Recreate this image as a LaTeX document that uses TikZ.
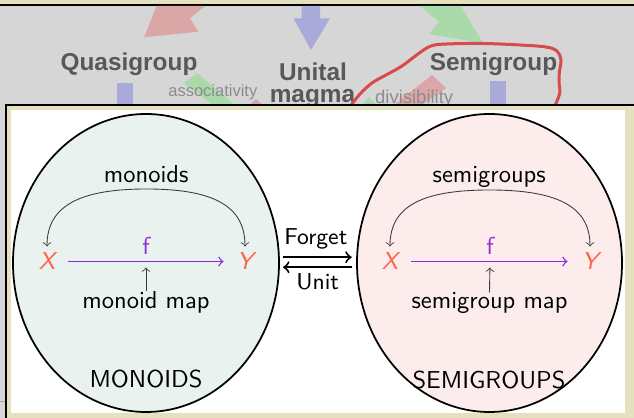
\documentclass[tikz,border=0pt]{standalone}
\usepackage{fontspec}
\newfontfamily\bgfont{Liberation Sans}
\usetikzlibrary{shapes.geometric,calc}
\definecolor{bggray}{RGB}{214,214,214}
\definecolor{beige}{RGB}{229,225,190}
\definecolor{monofill}{RGB}{233,242,238}
\definecolor{semifill}{RGB}{253,236,236}
\definecolor{xycol}{RGB}{255,99,71}
\definecolor{fcol}{RGB}{140,45,215}
\definecolor{bgtext}{RGB}{88,88,88}
\definecolor{bgtextlight}{RGB}{140,140,140}
\definecolor{bgred}{RGB}{218,166,166}
\definecolor{bgblue}{RGB}{170,170,218}
\definecolor{bggreen}{RGB}{170,218,170}
\definecolor{loopred}{RGB}{214,76,76}
\definecolor{thinline}{RGB}{60,60,60}
\definecolor{edgegray}{RGB}{165,165,165}
\tikzset{
  bgbold/.style={font=\bgfont\bfseries\fontsize{9.75}{12}\selectfont, text=bgtext, inner sep=0pt, anchor=base},
  bglight/.style={font=\bgfont\fontsize{6.6}{8}\selectfont, text=bgtextlight, inner sep=0pt, anchor=base},
  bglighttwo/.style={font=\bgfont\fontsize{7.4}{9}\selectfont, text=bgtextlight, inner sep=0pt, anchor=base},
  lbl/.style={font=\sffamily\fontsize{9.8}{12}\selectfont, inner sep=0pt, anchor=base},
  lbltwo/.style={font=\sffamily\fontsize{9.2}{11}\selectfont, inner sep=0pt, anchor=base},
  catblob/.style={ellipse, draw=black, line width=0.7pt, inner sep=0pt, minimum height=119.2pt},
  farrow/.style={->, draw=fcol, line width=0.55pt},
  carrow/.style={<->, draw=thinline, line width=0.35pt, shorten <=2.4pt, shorten >=2.4pt},
  sarrow/.style={->, draw=thinline, line width=0.35pt},
  fgarrow/.style={->, draw=black, line width=0.8pt},
}
\begin{document}
\begin{tikzpicture}[x=0.4pt,y=-0.4pt]
\useasboundingbox (0,0) rectangle (634,418);
% background screenshot
\fill[bggray] (0,0) rectangle (634,418);
\fill[beige] (0,0) rectangle (634,4.3);
\fill[black] (0,4.3) rectangle (634,5.8);
\fill[bgred] (156.7,6) -- (205,6) -- (190,18.3) -- (198.3,31.7) -- (144,37.3) -- cycle;
\fill[bgblue] (301.7,6) -- (320,6) -- (320,18.3) -- (330,18.3) -- (311,50) -- (293.3,18.3) -- (301.7,18.3) -- cycle;
\fill[bggreen] (420,6) -- (461,6) -- (483,43) -- (429,34) -- (439,22) -- cycle;
\fill[bgblue] (116.5,82.7) rectangle (133.4,106);
\fill[bgblue] (490,81) rectangle (506,106);
\fill[bggreen] (184,83) -- (197,73) -- (236,106) -- (214,106) -- cycle;
\fill[bgred] (249,106) -- (256,99) -- (264,106) -- cycle;
\fill[bgred] (432,75) -- (446,88) -- (420,106) -- (393,106) -- cycle;
\fill[bggreen] (362,106) -- (369,97) -- (377,106) -- cycle;
\node[bgbold] (quasi) at (129,70.8) {Quasigroup};
\node[bgbold] (unital) at (313,81) {Unital};
\node[bgbold] (magma) at (312.5,102.5) {magma};
\node[bgbold] (semi) at (493.5,71) {Semigroup};
\node[bglight] (assoc) at (212.8,96.5) {associativity};
\node[bglighttwo] (divis) at (414.2,104) {divisibility};
\draw[loopred, line width=1.2pt, line cap=round, line join=round]
  plot[smooth, tension=0.6] coordinates {(349,108) (360,94) (372,83) (386,75) (402,66) (418,54) (431,46) (447,44) (483,43.5) (520,45) (546,47) (557,51) (561,60) (559.5,71) (559,83) (560,92) (557,101) (553,110)};
% panel
\fill[black] (5,104) rectangle (634,106);
\fill[black] (5,104) rectangle (7,418);
\fill[beige] (7,106) rectangle (634,418);
\fill[white] (11,110) rectangle (625,413);
\draw[draw=edgegray, line width=0.4pt] (0,402) -- (5,402);
% categories
\node[catblob, fill=monofill, minimum width=106.4pt] (M) at (146,263) {};
\node[catblob, fill=semifill, minimum width=106pt] (S) at (489.5,263) {};
% left: monoids
\node[lbl] (mtitle) at (146.2,182.3) {monoids};
\node[lbl, text=xycol] (X1) at (47,270) {\itshape X};
\node[lbl, text=xycol] (Y1) at (245,270) {\itshape Y};
\node[lbl, text=fcol] (f1) at (146,255) {f};
\node[lbl] (mmap) at (146,308.3) {monoid map};
\node[lbl] (MT) at (146,387.7) {MONOIDS};
\coordinate (mtop) at (146.5,189);
\draw[farrow, shorten <=5.1pt, shorten >=5.1pt] (X1.east) -- (Y1.west);
\path (X1.east) -- (Y1.west) coordinate[pos=0.5] (fm1);
\draw[sarrow, shorten >=2.4pt] (mmap.north) -- (fm1);
\draw[carrow] (X1.north) .. controls ($(X1.north)+(0,-47)$) and ($(mtop)+(-66,0)$) .. (mtop)
  .. controls ($(mtop)+(66,0)$) and ($(Y1.north)+(0,-47)$) .. (Y1.north);
% right: semigroups
\node[lbl] (stitle) at (489.2,182.3) {semigroups};
\node[lbl, text=xycol] (X2) at (390,270) {\itshape X};
\node[lbl, text=xycol] (Y2) at (590,270) {\itshape Y};
\node[lbl, text=fcol] (f2) at (490,255) {f};
\node[lbl] (smap) at (489.5,309) {semigroup map};
\node[lbl] (ST) at (489,388.3) {SEMIGROUPS};
\coordinate (stop) at (489.5,190);
\draw[farrow, shorten <=5.1pt, shorten >=5.5pt] (X2.east) -- (Y2.west);
\path (X2.east) -- (Y2.west) coordinate[pos=0.5] (fm2);
\draw[sarrow, shorten >=2.4pt] (smap.north) -- (fm2);
\draw[carrow] (X2.north) .. controls ($(X2.north)+(0,-47)$) and ($(stop)+(-66,0)$) .. (stop)
  .. controls ($(stop)+(66,0)$) and ($(Y2.north)+(0,-47)$) .. (Y2.north);
% functors
\draw[fgarrow, shorten <=1.25pt, shorten >=1.75pt] ([yshift=2.3pt]M.east) -- ([yshift=2.3pt]S.west);
\draw[fgarrow, shorten <=1.75pt, shorten >=1.25pt] ([yshift=-1.7pt]S.west) -- ([yshift=-1.7pt]M.east);
\node[lbltwo] (forget) at (315.8,244.3) {Forget};
\node[lbltwo] (unit) at (317.6,290) {Unit};
\end{tikzpicture}
\end{document}
